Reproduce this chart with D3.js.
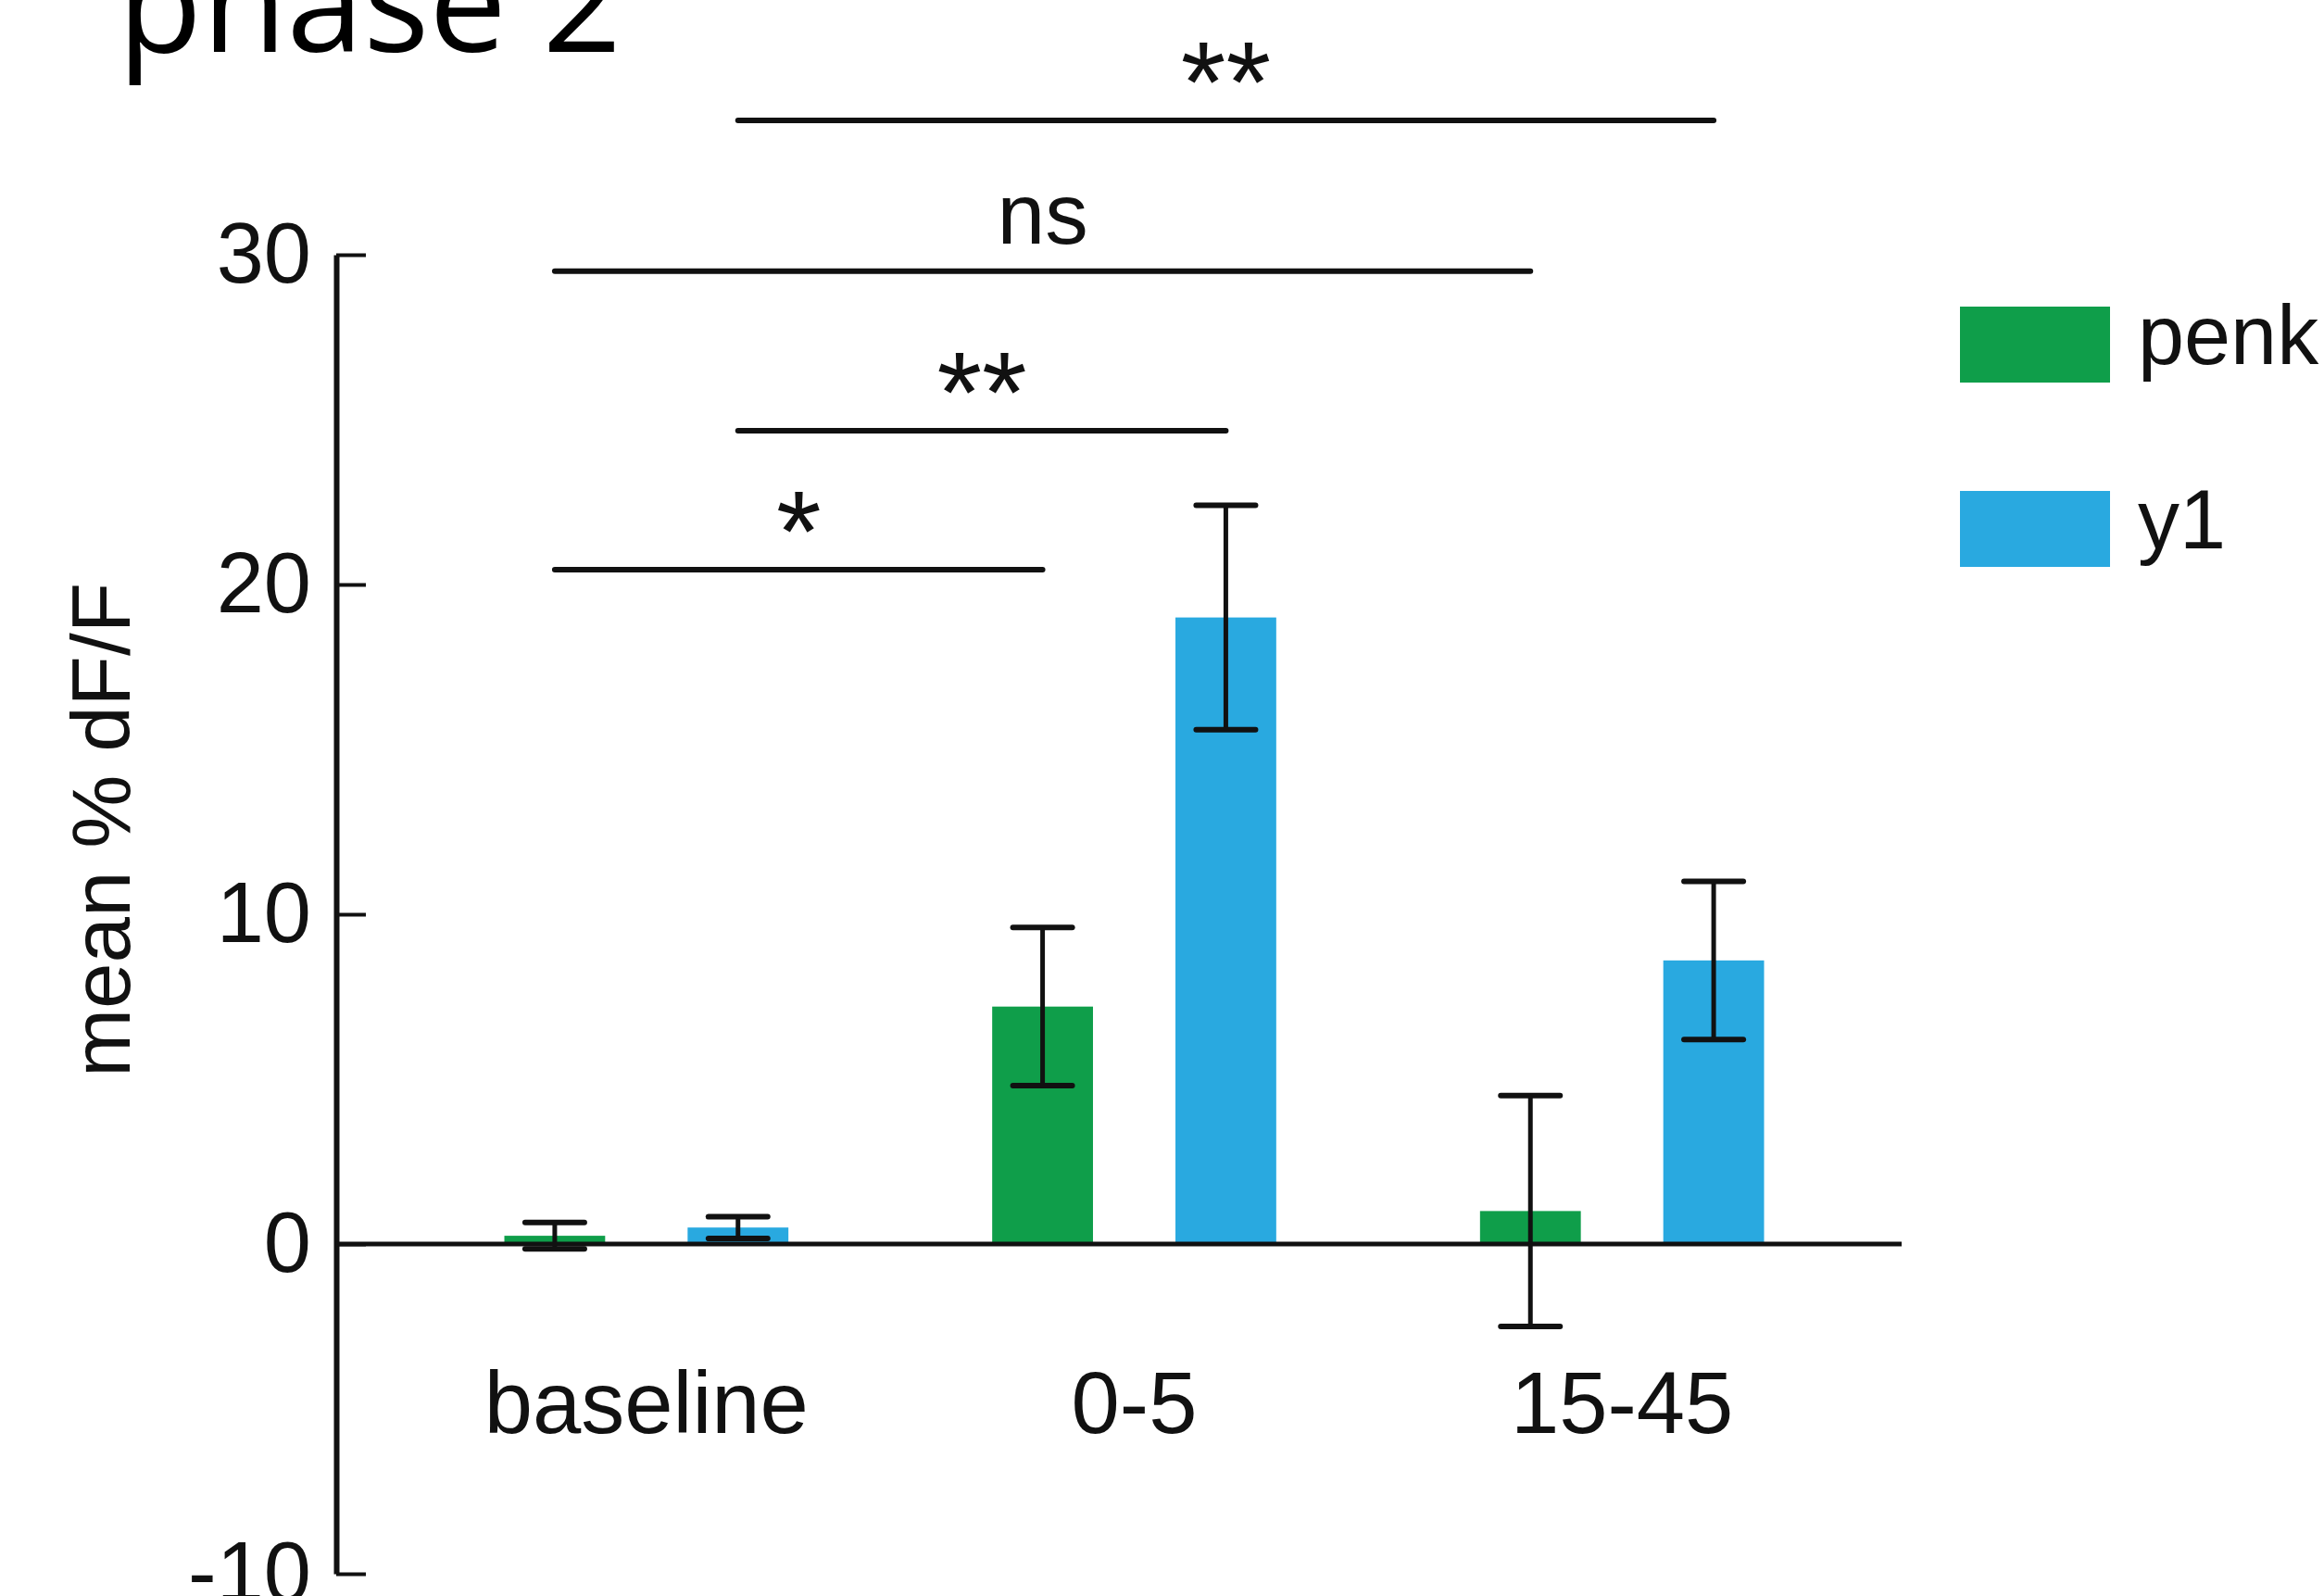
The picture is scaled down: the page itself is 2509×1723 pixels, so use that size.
<!DOCTYPE html>
<html>
<head>
<meta charset="utf-8">
<script src="https://cdn.jsdelivr.net/npm/d3@7"></script>
<style>
body{margin:0;background:#fff;overflow:hidden}
svg{display:block}
</style>
</head>
<body>
<svg width="2509" height="1723"></svg>
<script>
// values
const CATEGORIES = ['baseline', '0-5', '15-45']
const SERIES = ['penk', 'y1']
const PENK_MEAN = [0.25, 7.2, 1.0]
const PENK_ERR = [0.4, 2.4, 3.5]
const Y1_MEAN = [0.5, 19.0, 8.6]
const Y1_ERR = [0.33, 3.4, 2.4]
const Y_TICKS = [-10, 0, 10, 20, 30]

// significance brackets: from (category, series) to (category, series), height in data units
const SIG_LABELS = ['*', '**', 'ns', '**']
const SIG_PAIRS = [
    ['baseline', 'penk', '0-5', 'penk'],
    ['baseline', 'y1', '0-5', 'y1'],
    ['baseline', 'penk', '15-45', 'penk'],
    ['baseline', 'y1', '15-45', 'y1'],
]
const SIG_LEVEL = [20.45, 24.66, 29.5, 34.07]

const COLORS = {penk: '#0f9e4a', y1: '#29a9e0'}
const FONT = '"Liberation Sans", Arial, sans-serif'

const rows = CATEGORIES.map((c, i) => ({
    cat: c,
    vals: [
        {key: 'penk', mean: PENK_MEAN[i], err: PENK_ERR[i]},
        {key: 'y1', mean: Y1_MEAN[i], err: Y1_ERR[i]},
    ]
}))

const svg = d3.select('svg')

// scales
const yScale = d3.scaleLinear().domain([-10, 30]).range([1699, 275])
const x0 = d3.scaleBand().domain(CATEGORIES).range([434.5, 2014.5]).padding(0)
const x1 = d3.scaleBand().domain(SERIES).range([0, x0.bandwidth()])
    .paddingInner(0.45).paddingOuter(0.556)
const cx = (cat, key) => x0(cat) + x1(key) + x1.bandwidth() / 2

// title (cut off at the top like the original)
svg.append('text')
    .attr('x', 127).attr('y', 56)
    .style('font-family', '"Open Sans", "Noto Sans", sans-serif')
    .style('font-size', '149px')
    .text('phase 2')

// y axis, ticks pointing inward
const yAxis = d3.axisLeft(yScale).tickValues(Y_TICKS)
    .tickFormat(d => String(d))
    .tickSizeInner(-32).tickSizeOuter(0).tickPadding(27)
const gy = svg.append('g').attr('transform', 'translate(363,0)').call(yAxis)
gy.select('.domain').attr('stroke', '#111').attr('stroke-width', 6)
gy.selectAll('.tick line').attr('stroke', '#111').attr('stroke-width', 4)
gy.selectAll('.tick text')
    .style('font-family', FONT).style('font-size', '92px').attr('fill', '#111')

svg.append('text')
    .attr('transform', 'translate(140,896) rotate(-90)')
    .attr('text-anchor', 'middle')
    .style('font-family', FONT).style('font-size', '89px')
    .attr('fill', '#111')
    .text('mean % dF/F')

// bars
const groups = svg.selectAll('.group')
    .data(rows)
    .enter()
    .append('g')
    .classed('group', true)
    .attr('transform', d => `translate(${x0(d.cat)},0)`)

groups.selectAll('.bar')
    .data(d => d.vals)
    .enter()
    .append('rect')
    .classed('bar', true)
    .attr('x', d => x1(d.key))
    .attr('width', x1.bandwidth())
    .attr('y', d => yScale(Math.max(0, d.mean)))
    .attr('height', d => Math.abs(yScale(d.mean) - yScale(0)))
    .attr('fill', d => COLORS[d.key])

// zero line
svg.append('line')
    .attr('x1', 363).attr('x2', 2053)
    .attr('y1', yScale(0)).attr('y2', yScale(0))
    .attr('stroke', '#111').attr('stroke-width', 5)

// error bars
const capW = 64
const eb = groups.selectAll('.err')
    .data(d => d.vals)
    .enter()
    .append('g')
    .classed('err', true)
    .attr('transform', d => `translate(${x1(d.key) + x1.bandwidth() / 2},0)`)
    .attr('stroke', '#111')
eb.append('line')
    .attr('y1', d => yScale(d.mean - d.err)).attr('y2', d => yScale(d.mean + d.err))
    .attr('stroke-width', 5)
eb.append('line')
    .attr('x1', -capW / 2).attr('x2', capW / 2)
    .attr('y1', d => yScale(d.mean + d.err)).attr('y2', d => yScale(d.mean + d.err))
    .attr('stroke-width', 6).attr('stroke-linecap', 'round')
eb.append('line')
    .attr('x1', -capW / 2).attr('x2', capW / 2)
    .attr('y1', d => yScale(d.mean - d.err)).attr('y2', d => yScale(d.mean - d.err))
    .attr('stroke-width', 6).attr('stroke-linecap', 'round')

// category labels
svg.selectAll('.catlabel')
    .data(CATEGORIES)
    .enter()
    .append('text')
    .classed('catlabel', true)
    .attr('x', d => x0(d) + x0.bandwidth() / 2)
    .attr('y', 1547)
    .attr('text-anchor', 'middle')
    .style('font-family', FONT).style('font-size', '94px')
    .attr('fill', '#111')
    .text(d => d)

// significance brackets
const sig = svg.selectAll('.sig')
    .data(SIG_PAIRS.map((p, i) => ({p, label: SIG_LABELS[i], level: SIG_LEVEL[i]})))
    .enter()
    .append('g')
    .classed('sig', true)
sig.append('line')
    .attr('x1', d => cx(d.p[0], d.p[1])).attr('x2', d => cx(d.p[2], d.p[3]))
    .attr('y1', d => yScale(d.level)).attr('y2', d => yScale(d.level))
    .attr('stroke', '#111').attr('stroke-width', 6).attr('stroke-linecap', 'round')
sig.append('text')
    .attr('x', d => (cx(d.p[0], d.p[1]) + cx(d.p[2], d.p[3])) / 2)
    .attr('y', d => d.label === 'ns' ? yScale(d.level) - 30 : yScale(d.level) + 2)
    .attr('text-anchor', 'middle')
    .style('font-family', FONT)
    .style('font-size', d => d.label === 'ns' ? '93px' : '125px')
    .attr('fill', '#111')
    .text(d => d.label)

// legend
const legend = svg.selectAll('.legend')
    .data(SERIES)
    .enter()
    .append('g')
    .classed('legend', true)
    .attr('transform', (d, i) => `translate(2116,${331 + i * 199})`)
legend.append('rect')
    .attr('width', 162).attr('height', 82)
    .attr('fill', d => COLORS[d])
legend.append('text')
    .attr('x', 192).attr('y', 62)
    .style('font-family', FONT).style('font-size', '90px')
    .attr('fill', '#111')
    .text(d => d)
</script>
</body>
</html>
